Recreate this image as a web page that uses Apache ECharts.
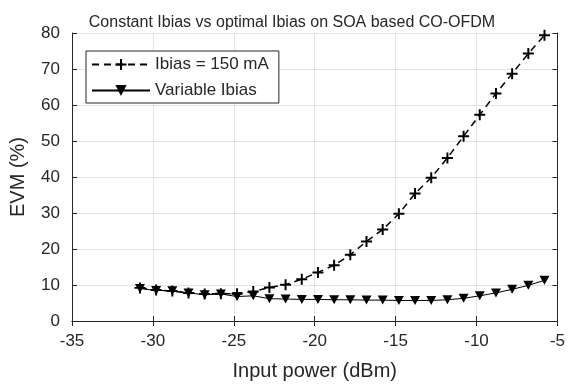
<!DOCTYPE html>
<html>
<head>
<meta charset="utf-8">
<script src="https://cdn.jsdelivr.net/npm/echarts@6/dist/echarts.min.js"></script>
<style>
html,body{margin:0;padding:0;background:#fff;}
#chart{width:568px;height:388px;}
</style>
</head>
<body>
<div id="chart"></div>
<script>
var inputPower = [-30.8,-29.8,-28.8,-27.8,-26.8,-25.8,-24.8,-23.8,-22.8,-21.8,-20.8,-19.8,-18.8,-17.8,-16.8,-15.8,-14.8,-13.8,-12.8,-11.8,-10.8,-9.8,-8.8,-7.8,-6.8,-5.8];
var evmConstant = [9.2,8.6,8.3,7.8,7.5,7.6,7.6,8.2,9.3,10.1,11.6,13.5,15.5,18.4,22.1,25.4,29.8,35.4,39.8,45.3,51.3,57.3,63.2,68.7,74.3,79.4];
var evmVariable = [9.0,8.5,8.4,7.8,7.3,7.5,6.8,7.0,6.2,6.1,6.0,6.0,5.9,5.9,5.8,5.8,5.7,5.7,5.7,5.9,6.3,7.0,7.8,8.8,9.9,11.3];
var seriesNames = ['Ibias = 150 mA','Variable Ibias'];
var titleText = 'Constant Ibias vs optimal Ibias on SOA based CO-OFDM';
var xName = 'Input power (dBm)';
var yName = 'EVM (%)';

function pairs(xs, ys){ return xs.map(function(x,i){ return [x, ys[i]]; }); }

var FONT = '"Liberation Sans", Arial, sans-serif';
var TXT = '#262626';
var plusPath = 'path://M4.1,0H5.9V4.1H10V5.9H5.9V10H4.1V5.9H0V4.1H4.1Z';

var chart = echarts.init(document.getElementById('chart'), null, {renderer:'canvas'});
var axisCommon = {
  axisLine:{show:true, lineStyle:{color:TXT, width:1}},
  axisTick:{show:true, inside:true, length:5, lineStyle:{color:TXT, width:1}}
};
chart.setOption({
  animation:false,
  backgroundColor:'#fff',
  title:{
    text:titleText, left:287, top:10, textAlign:'center',
    textStyle:{fontFamily:FONT, fontSize:16, fontWeight:'normal', color:TXT}
  },
  grid:{left:67, right:6, top:33, bottom:67, containLabel:false},
  legend:{
    data:seriesNames, orient:'vertical', left:86, top:51,
    padding:[5,10,4,5], itemWidth:58, itemHeight:14, itemGap:9,
    borderColor:TXT, borderWidth:1, backgroundColor:'#fff',
    textStyle:{fontFamily:FONT, fontSize:17, color:TXT}
  },
  xAxis:[
    Object.assign({
      type:'value', min:-35, max:-5, interval:5, position:'bottom',
      name:xName, nameLocation:'middle', nameGap:40,
      nameTextStyle:{fontFamily:FONT, fontSize:20, color:TXT},
      axisLabel:{fontFamily:FONT, fontSize:17, color:TXT, margin:12},
      splitLine:{show:true, lineStyle:{color:'#e3e3e3', width:1}}
    }, axisCommon),
    Object.assign({
      type:'value', min:-35, max:-5, interval:5, position:'top',
      axisLabel:{show:false}, splitLine:{show:false}
    }, axisCommon)
  ],
  yAxis:[
    Object.assign({
      type:'value', min:0, max:80, interval:10, position:'left',
      name:yName, nameLocation:'middle', nameGap:44, nameRotate:90,
      nameTextStyle:{fontFamily:FONT, fontSize:20, color:TXT},
      axisLabel:{fontFamily:FONT, fontSize:17, color:TXT, margin:12},
      splitLine:{show:true, lineStyle:{color:'#e3e3e3', width:1}}
    }, axisCommon),
    Object.assign({
      type:'value', min:0, max:80, interval:10, position:'right',
      axisLabel:{show:false}, splitLine:{show:false}
    }, axisCommon)
  ],
  series:[
    {
      name:seriesNames[0], type:'line', xAxisIndex:0, yAxisIndex:0,
      data:pairs(inputPower, evmConstant),
      symbol:plusPath, symbolSize:11, showAllSymbol:true,
      lineStyle:{color:'#000', width:1.5, type:[7,5]},
      itemStyle:{color:'#000'}
    },
    {
      name:seriesNames[1], type:'line', xAxisIndex:0, yAxisIndex:0,
      data:pairs(inputPower, evmVariable),
      symbol:'triangle', symbolRotate:180, symbolSize:[10,9], showAllSymbol:true,
      lineStyle:{color:'#000', width:1},
      itemStyle:{color:'#000'}
    }
  ]
});
</script>
</body>
</html>
